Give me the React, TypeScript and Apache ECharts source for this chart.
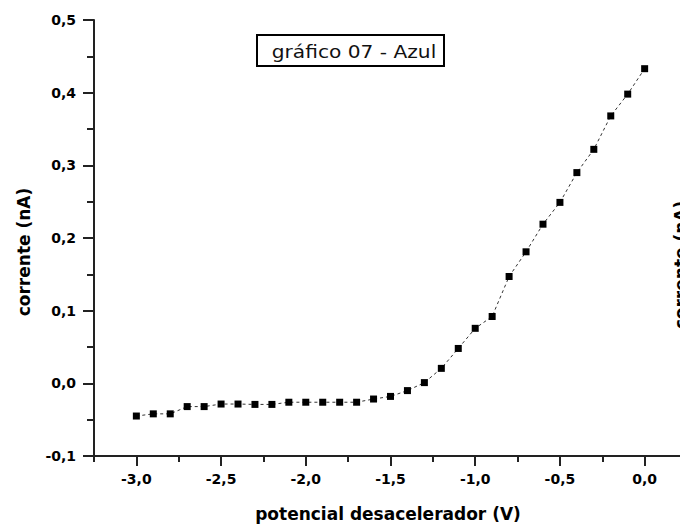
import React, { useEffect, useRef } from "react";
import * as echarts from "echarts";

const xValues = [
  -3.0, -2.9, -2.8, -2.7, -2.6, -2.5, -2.4, -2.3, -2.2, -2.1, -2.0, -1.9, -1.8, -1.7, -1.6, -1.5,
  -1.4, -1.3, -1.2, -1.1, -1.0, -0.9, -0.8, -0.7, -0.6, -0.5, -0.4, -0.3, -0.2, -0.1, 0.0,
];
const currentValues = [
  -0.045, -0.042, -0.042, -0.032, -0.032, -0.0285, -0.0285, -0.029, -0.029, -0.026, -0.026, -0.026,
  -0.026, -0.026, -0.0216, -0.018, -0.01, 0.001, 0.0206, 0.048, 0.0757, 0.092, 0.147, 0.181, 0.219,
  0.249, 0.29, 0.322, 0.368, 0.398, 0.433,
];
const xMajorTicks = [-3.0, -2.5, -2.0, -1.5, -1.0, -0.5, 0.0];
const titleText = "gráfico 07 - Azul";
const xName = "potencial desacelerador (V)";
const yName = "corrente (nA)";

const fmt = (v: number) => (Math.abs(v) < 1e-9 ? 0 : v).toFixed(1).replace(".", ",");

const FONT = "DejaVu Sans";

export default function App() {
  const ref = useRef<HTMLDivElement>(null);
  useEffect(() => {
    if (!ref.current) return;
    const chart = echarts.init(ref.current, null, { renderer: "svg" });
    const data = xValues.map((x, i) => [x, currentValues[i]]);
    const axisColor = "#222";
    chart.setOption({
      animation: false,
      backgroundColor: "#fff",
      grid: { left: 94, top: 20, bottom: 68, right: 33, containLabel: false },
      xAxis: [
        {
          type: "value",
          min: -3.25,
          max: 0.25,
          interval: 0.25,
          position: "bottom",
          axisLine: { show: true, onZero: false, lineStyle: { color: axisColor, width: 2 } },
          axisTick: { show: true, length: 6, lineStyle: { color: axisColor, width: 2 } },
          axisLabel: { show: false },
          splitLine: { show: false },
        },
        {
          type: "value",
          min: -3.25,
          max: 0.25,
          interval: 0.25,
          position: "bottom",
          axisLine: { show: false, onZero: false },
          axisTick: {
            show: true,
            length: 10,
            customValues: xMajorTicks,
            lineStyle: { color: axisColor, width: 2 },
          },
          axisLabel: {
            show: true,
            customValues: xMajorTicks,
            margin: 16,
            formatter: (v: number) => fmt(v),
            fontFamily: FONT,
            fontWeight: "bold",
            fontSize: 14,
            color: "#000",
          },
          splitLine: { show: false },
        },
      ],
      yAxis: {
        type: "value",
        min: -0.1,
        max: 0.5,
        interval: 0.1,
        axisLine: { show: true, onZero: false, lineStyle: { color: axisColor, width: 2 } },
        axisTick: { show: true, length: 11, lineStyle: { color: axisColor, width: 2 } },
        minorTick: { show: true, splitNumber: 2, length: 7, lineStyle: { color: axisColor, width: 2 } },
        axisLabel: {
          margin: 18,
          formatter: (v: number) => fmt(v),
          fontFamily: FONT,
          fontWeight: "bold",
          fontSize: 14,
          color: "#000",
        },
        splitLine: { show: false },
      },
      series: [
        {
          type: "line",
          data,
          xAxisIndex: 0,
          symbol: "rect",
          symbolSize: 7,
          itemStyle: { color: "#000" },
          lineStyle: { color: "#333", width: 1, type: [3, 3] },
        },
      ],
      graphic: [
        {
          type: "rect",
          shape: { x: 257, y: 35, width: 187, height: 31 },
          style: { fill: "#fff", stroke: "#000", lineWidth: 2 },
          z: 10,
        },
        {
          type: "text",
          x: 354,
          y: 52,
          z: 11,
          scaleX: 1.12,
          style: {
            text: titleText,
            fontFamily: FONT,
            fontSize: 18,
            fill: "#111",
            align: "center",
            verticalAlign: "middle",
          },
        },
        {
          type: "text",
          x: 388,
          y: 514,
          style: {
            text: xName,
            fontFamily: FONT,
            fontWeight: "bold",
            fontSize: 17,
            fill: "#000",
            align: "center",
            verticalAlign: "middle",
          },
        },
        {
          type: "text",
          x: 24,
          y: 252,
          rotation: Math.PI / 2,
          style: {
            text: yName,
            fontFamily: FONT,
            fontWeight: "bold",
            fontSize: 17,
            fill: "#000",
            align: "center",
            verticalAlign: "middle",
          },
        },
        {
          type: "text",
          x: 681,
          y: 265,
          rotation: Math.PI / 2,
          style: {
            text: yName,
            fontFamily: FONT,
            fontWeight: "bold",
            fontSize: 17,
            fill: "#000",
            align: "center",
            verticalAlign: "middle",
          },
        },
      ],
    });
    return () => chart.dispose();
  }, []);
  return (
    <div
      style={{
        position: "fixed",
        left: 0,
        top: 0,
        width: 680,
        height: 524,
        overflow: "hidden",
        background: "#fff",
      }}
    >
      <div ref={ref} style={{ width: 720, height: 524 }} />
    </div>
  );
}
